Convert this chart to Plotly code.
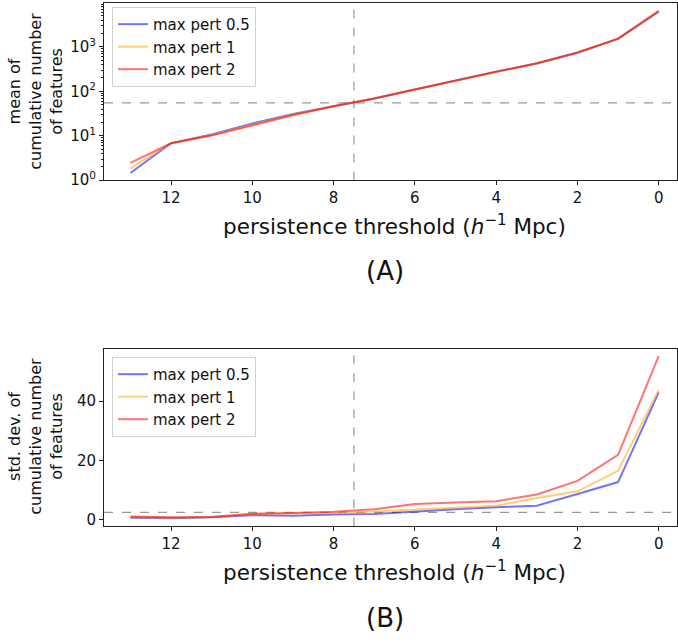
import plotly.graph_objects as go

# persistence thresholds (h^-1 Mpc)
thresholds = [13, 12, 11, 10, 9, 8, 7, 6, 5, 4, 3, 2, 1, 0]

# mean of cumulative number of features
mean_pert_05 = [1.45, 6.8, 10.7, 19.0, 31.0, 46.0, 69.0, 110.0, 175.0, 275.0, 425.0, 740.0, 1520.0, 6200.0]
mean_pert_1 = [1.85, 6.8, 10.4, 18.0, 30.0, 46.0, 69.0, 110.0, 175.0, 276.0, 426.0, 745.0, 1530.0, 6350.0]
mean_pert_2 = [2.45, 6.8, 10.1, 17.2, 29.0, 46.0, 69.0, 110.0, 176.0, 278.0, 428.0, 750.0, 1540.0, 6500.0]

# std. dev. of cumulative number of features
std_pert_05 = [0.7, 0.5, 0.8, 1.5, 1.3, 1.8, 1.9, 2.8, 3.5, 4.2, 4.75, 8.7, 12.7, 43.0]
std_pert_1 = [0.9, 0.7, 0.9, 1.9, 2.2, 2.3, 2.75, 3.4, 4.1, 4.75, 7.3, 9.6, 16.5, 43.8]
std_pert_2 = [1.1, 0.8, 0.9, 2.0, 2.3, 2.7, 3.5, 5.3, 5.85, 6.2, 8.5, 13.1, 21.9, 55.2]

series_names = ["max pert 0.5", "max pert 1", "max pert 2"]
series_colors = ["rgba(0,0,255,0.55)", "rgba(255,165,0,0.55)", "rgba(255,0,0,0.55)"]

threshold_line = 7.5
mean_ref = 55.0
std_ref = 2.5

log_tickvals = [1, 10, 100, 1000]
log_ticktext = ["10<sup>0</sup>", "10<sup>1</sup>", "10<sup>2</sup>", "10<sup>3</sup>"]
log_minor = [m * 10 ** e for e in range(0, 4) for m in range(2, 10)]

W, H = 678, 643
FONT = "DejaVu Sans"


def px_x(p):
    return p / W


def px_y(p):
    return 1 - p / H


fig = go.Figure()

for name, color, ys in zip(series_names, series_colors, [mean_pert_05, mean_pert_1, mean_pert_2]):
    fig.add_trace(go.Scatter(x=thresholds, y=ys, mode="lines", name=name,
                             line=dict(color=color, width=2),
                             xaxis="x", yaxis="y", legend="legend"))

for name, color, ys in zip(series_names, series_colors, [std_pert_05, std_pert_1, std_pert_2]):
    fig.add_trace(go.Scatter(x=thresholds, y=ys, mode="lines", name=name,
                             line=dict(color=color, width=2),
                             xaxis="x2", yaxis="y2", legend="legend2"))

x_dom = [px_x(104), px_x(677)]
top_dom = [px_y(183), px_y(3)]
bot_dom = [px_y(533.7), px_y(353.7)]

axis_common = dict(showgrid=False, zeroline=False, showline=True, linecolor="#222",
                   linewidth=1, mirror=True, ticks="outside", ticklen=4, tickwidth=1,
                   tickcolor="#222", tickfont=dict(family=FONT, size=15, color="#111"))

x_range = [13.65, -0.45]
legend_style = dict(xanchor="left", yanchor="top", bgcolor="white", bordercolor="#d0d0d0",
                    borderwidth=1, font=dict(family=FONT, size=15, color="#111"))
fig.update_layout(
    width=W, height=H,
    margin=dict(l=0, r=0, t=0, b=0),
    paper_bgcolor="white", plot_bgcolor="white",
    xaxis=dict(domain=x_dom, range=x_range, tickvals=[12, 10, 8, 6, 4, 2, 0], anchor="y", **axis_common),
    yaxis=dict(domain=top_dom, type="log", range=[-0.005, 3.99], tickvals=log_tickvals,
               ticktext=log_ticktext, anchor="x",
               minor=dict(tickvals=log_minor, ticks="outside", ticklen=2, tickcolor="#222"),
               **axis_common),
    xaxis2=dict(domain=x_dom, range=x_range, tickvals=[12, 10, 8, 6, 4, 2, 0], anchor="y2", **axis_common),
    yaxis2=dict(domain=bot_dom, range=[-2.2, 57.7], tickvals=[0, 20, 40], anchor="x2", **axis_common),
    legend=dict(x=px_x(112), y=px_y(7), **legend_style),
    legend2=dict(x=px_x(112), y=px_y(362), **legend_style),
    showlegend=True,
)

dash_line = dict(color="rgba(128,128,128,0.8)", width=1.2, dash="dash")
# reference lines, top panel
fig.add_shape(type="line", xref="x", yref="y domain", x0=threshold_line, x1=threshold_line,
              y0=0, y1=1, line=dash_line, layer="below")
fig.add_shape(type="line", xref="x domain", yref="y", x0=0, x1=1,
              y0=mean_ref, y1=mean_ref, line=dash_line, layer="below")
# reference lines, bottom panel
fig.add_shape(type="line", xref="x2", yref="y2 domain", x0=threshold_line, x1=threshold_line,
              y0=0, y1=1, line=dash_line, layer="below")
fig.add_shape(type="line", xref="x2 domain", yref="y2", x0=0, x1=1,
              y0=std_ref, y1=std_ref, line=dash_line, layer="below")

xtitle = "persistence threshold (<i>h</i><sup>\u22121</sup> Mpc)"
ann_font = dict(family=FONT, color="#111")
annotations = [
    dict(text=xtitle, x=px_x(394), y=px_y(228), font=dict(size=21.5, **ann_font)),
    dict(text=xtitle, x=px_x(394), y=px_y(579), font=dict(size=21.5, **ann_font)),
    dict(text="(A)", x=px_x(385), y=px_y(275), font=dict(size=26, **ann_font)),
    dict(text="(B)", x=px_x(385), y=px_y(627), font=dict(size=26, **ann_font)),
    dict(text="mean of<br>cumulative number<br>of features", x=px_x(36), y=px_y(93),
         textangle=-90, font=dict(size=16, **ann_font)),
    dict(text="std. dev. of<br>cumulative number<br>of features", x=px_x(36), y=px_y(443),
         textangle=-90, font=dict(size=16, **ann_font)),
]
for a in annotations:
    a.update(xref="paper", yref="paper", showarrow=False, xanchor="center", yanchor="middle")
fig.update_layout(annotations=annotations)

fig.write_html("out.html")
